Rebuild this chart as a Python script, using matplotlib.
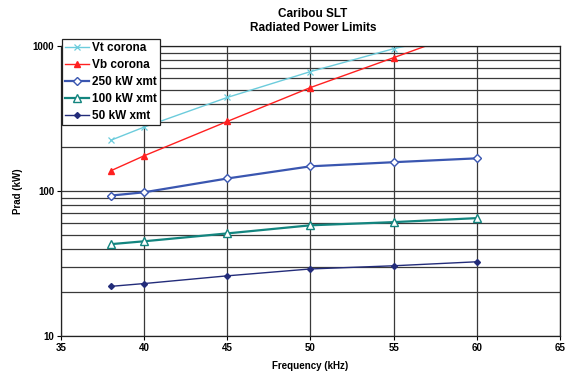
import matplotlib
matplotlib.use("Agg")
import matplotlib.pyplot as plt
from matplotlib.ticker import FixedLocator, NullFormatter

plt.rcParams['font.family'] = ['Liberation Sans', 'DejaVu Sans']

freq = [38, 40, 45, 50, 55, 60]
vt_corona = [224, 276, 442, 666, 958, 1280]
vb_corona = [138, 175, 302, 517, 831, 1340]
xmt_250 = [93, 98, 122, 148, 158, 168]
xmt_100 = [43, 45, 51, 58, 61, 65]
xmt_50 = [22, 23, 26, 29, 30.5, 32.5]

series = [
    ("Vt corona", vt_corona, dict(color="#6CCCDC", marker="x", ms=4, mew=0.9, lw=1.0)),
    ("Vb corona", vb_corona, dict(color="#FF2020", marker="^", ms=4, lw=1.0)),
    ("250 kW xmt", xmt_250, dict(color="#3A56B0", marker="D", ms=4.5, mfc="white", mew=1.0, lw=1.6)),
    ("100 kW xmt", xmt_100, dict(color="#13857F", marker="^", ms=6, mfc="white", mew=1.0, lw=1.6)),
    ("50 kW xmt", xmt_50, dict(color="#232C7A", marker="D", ms=3, lw=1.0)),
]

fig = plt.figure(figsize=(5.74, 3.77), dpi=100)
ax = fig.add_axes([61/574, 1-336/377, (560-61)/574, (336-46)/377])

ax.set_yscale("log")
ax.set_xlim(35, 65)
ax.set_ylim(10, 1000)

ax.yaxis.set_minor_locator(FixedLocator([v*m for m in (10, 100) for v in range(2, 10)]))
ax.yaxis.set_minor_formatter(NullFormatter())
ax.set_yticks([10, 100, 1000])
ax.set_yticklabels(["10", "100", "1000"])
ax.set_xticks([35, 40, 45, 50, 55, 60, 65])
ax.grid(True, which="both", axis="y", color="#3a3a3a", lw=0.9)
ax.grid(True, which="major", axis="x", color="#3a3a3a", lw=0.9)
ax.tick_params(axis="y", which="minor", length=0)
ax.tick_params(axis="both", which="major", labelsize=7, length=3, width=0.8, pad=2)
for lab in ax.get_xticklabels() + ax.get_yticklabels():
    lab.set_fontweight("bold")
for s in ax.spines.values():
    s.set_color("#222222")
    s.set_linewidth(0.9)
ax.set_axisbelow(True)

for name, vals, st in series:
    ax.plot(freq, vals, label=name, **st)

ax.set_xlabel("Frequency (kHz)", fontsize=7, fontweight="bold", labelpad=6)
ax.set_ylabel("Prad (kW)", fontsize=7, fontweight="bold", labelpad=7)

fig.text(0.545, 1-14/377, "Caribou SLT", ha="center", va="center", fontsize=8.5, fontweight="bold")
fig.text(0.545, 1-28/377, "Radiated Power Limits", ha="center", va="center", fontsize=8.5, fontweight="bold")

leg = ax.legend(loc="upper left", bbox_to_anchor=(62/574, 1-39/377), bbox_transform=fig.transFigure,
                prop=dict(weight="bold", size=8.5), frameon=True, fancybox=False,
                handlelength=2.0, handletextpad=0.3, labelspacing=0.42, borderpad=0.25,
                borderaxespad=0)
leg.get_frame().set_edgecolor("#222222")
leg.get_frame().set_linewidth(0.9)
leg.get_frame().set_alpha(1)

fig.savefig("out.png", dpi=100)
